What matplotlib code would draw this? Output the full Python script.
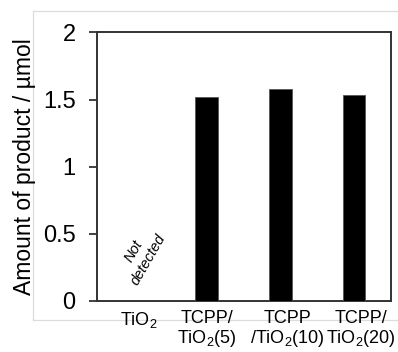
import matplotlib
matplotlib.use("Agg")
import matplotlib.pyplot as plt
from matplotlib.lines import Line2D
from matplotlib.transforms import ScaledTranslation

plt.rcParams['font.family'] = ['Liberation Sans', 'DejaVu Sans']
plt.rcParams['mathtext.fontset'] = 'custom'
plt.rcParams['mathtext.rm'] = 'Liberation Sans'
plt.rcParams['mathtext.it'] = 'Liberation Sans:italic'

categories = ['TiO$_2$', 'TCPP/\nTiO$_2$(5)', 'TCPP\n/TiO$_2$(10)', 'TCPP/\nTiO$_2$(20)']
values = [0.0, 1.52, 1.58, 1.535]
yticks = [0, 0.5, 1, 1.5, 2]
yticklabels = ['0', '0.5', '1', '1.5', '2']
ylabel = 'Amount of product / µmol'
note = 'Not\ndetected'

fig = plt.figure(figsize=(3.98, 3.52), dpi=100)
ax = fig.add_axes([0.2425, 0.1457, 0.982 - 0.2425, 0.9077 - 0.1457])

# faint outer chart-area frame
fx0, fx1 = 33 / 398, 1.0
fy0, fy1 = 1 - 320 / 352, 1 - 11 / 352
for xs, ys in [([fx0, fx1], [fy1, fy1]), ([fx0, fx0], [fy0, fy1]), ([fx0, fx1], [fy0, fy0])]:
    fig.add_artist(Line2D(xs, ys, transform=fig.transFigure, color='#dcdcdc', lw=0.9, zorder=0))

x = list(range(len(categories)))
ax.bar(x, values, width=0.31, color='black', edgecolor='#555555', linewidth=0.6, zorder=3)
ax.set_xlim(-0.5, 3.5)
ax.set_ylim(0, 2)
ax.set_yticks(yticks)
ax.set_yticklabels(yticklabels, fontsize=17)
ax.set_xticks(x)
ax.set_xticklabels(categories, fontsize=13, linespacing=1.02)
ax.tick_params(axis='x', length=0, pad=7)
ax.tick_params(axis='y', length=6, width=1.3, pad=9, color='#333333')
# small horizontal nudges of the category labels, as in the reference layout
for lab, dx in zip(ax.get_xticklabels(), [0.05, 0.0, 0.07, 0.07]):
    lab.set_transform(lab.get_transform() + ScaledTranslation(dx, 0, fig.dpi_scale_trans))
for s in ax.spines.values():
    s.set_color('#333333')
    s.set_linewidth(1.4)
ax.set_ylabel(ylabel, fontsize=16.5, labelpad=5)
ax.text(0.1, 0.34, note, rotation=60, fontsize=10.5, style='italic', ha='center', va='center',
        multialignment='center')
ax.patch.set_alpha(0)

fig.savefig('out.png', dpi=100)
